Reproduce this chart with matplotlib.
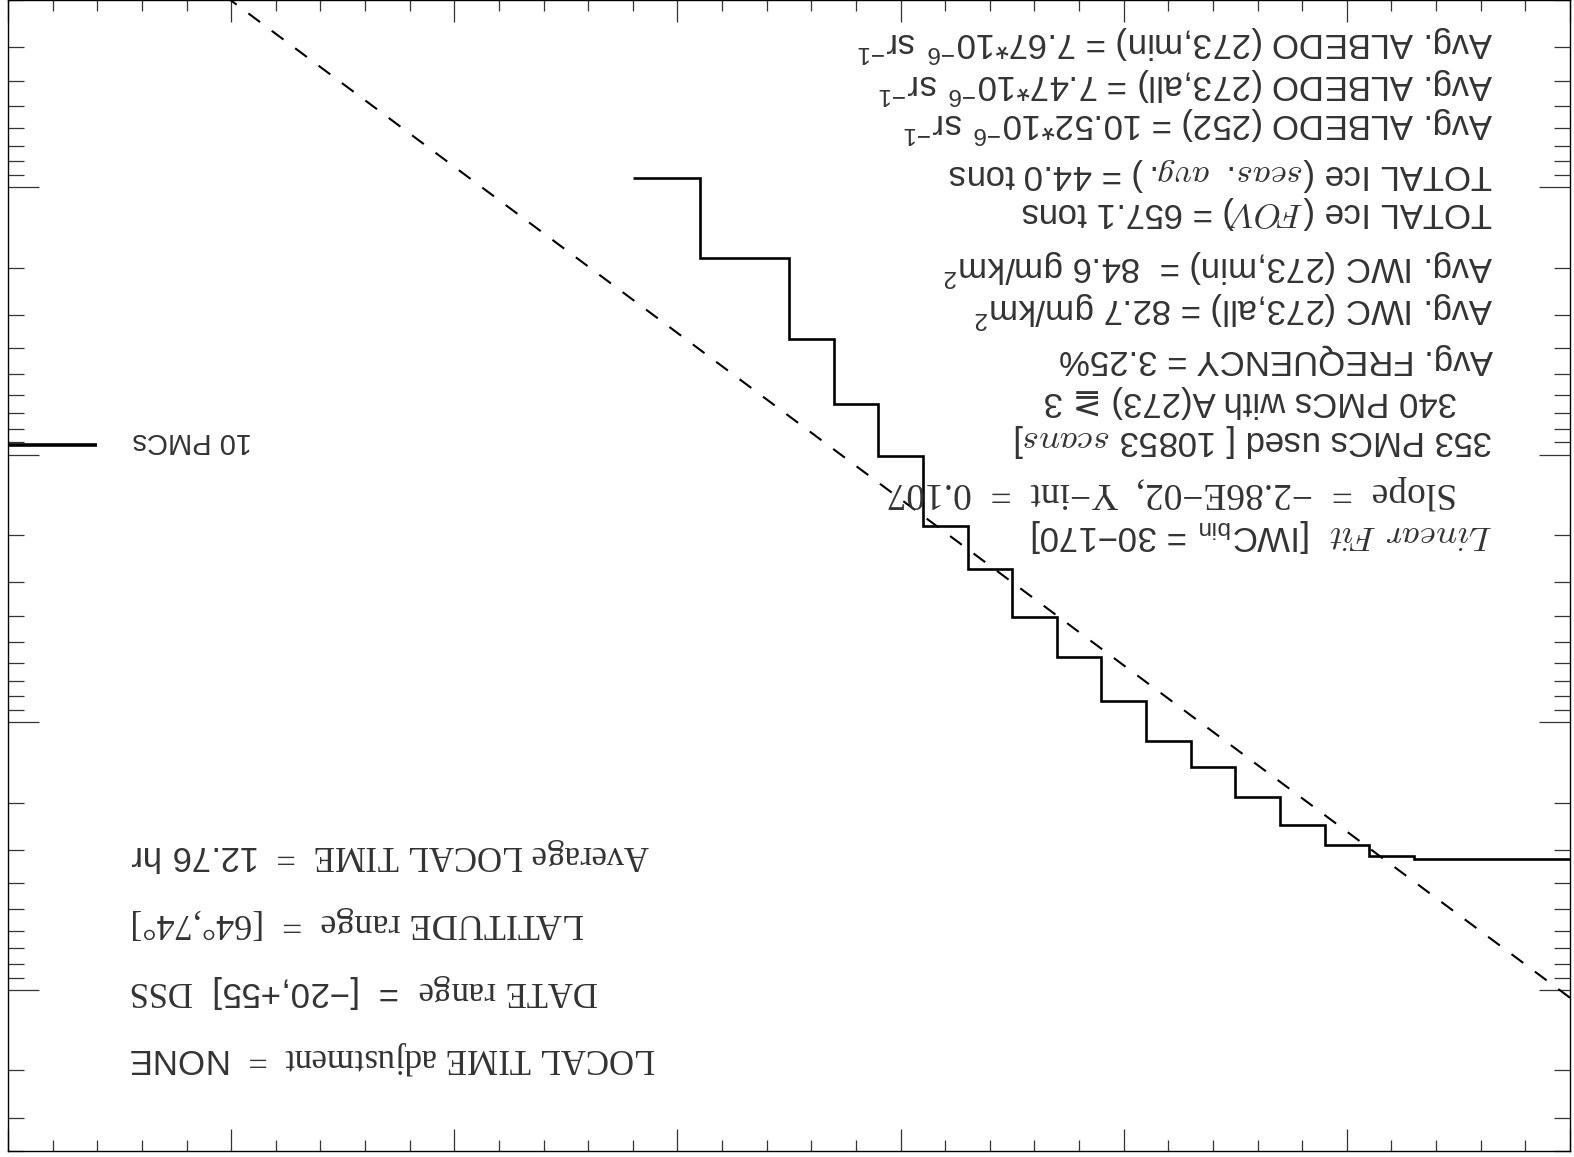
import numpy as np
import matplotlib
matplotlib.use('Agg')
import matplotlib.pyplot as plt
from matplotlib.ticker import MultipleLocator, LogLocator, NullFormatter

# cumulative PMC counts per IWC bin (gm/km^2)
n_scans = 10853
iwc_edges = [0, 25, 35, 45, 55, 65, 75, 85, 95, 105, 115, 125, 135, 145, 155, 165, 175, 195, 210]
pmc_counts = [353, 351, 342, 311, 262, 206, 159, 128, 90, 62, 44, 29, 20, 11, 7, 4, 2, 1]
fit_slope = -2.86e-2
fit_yint = 0.107
ref_pmcs = 10

plt.rcParams['mathtext.fontset'] = 'custom'
plt.rcParams['mathtext.rm'] = 'Liberation Sans'
plt.rcParams['mathtext.it'] = 'cmmi10'
plt.rcParams['mathtext.sf'] = 'Liberation Serif'
plt.rcParams['mathtext.bf'] = 'Liberation Sans:bold'

W, H = 1574, 1157
fig = plt.figure(figsize=(W / 100, H / 100), dpi=100)
ax = fig.add_axes([8 / W, 6 / H, (1570 - 8) / W, 1151 / H])

freq = np.array(pmc_counts) / n_scans
ax.stairs(freq, iwc_edges, baseline=None, color='k', lw=1.9)
u = np.array([0.0, 350.0])
ax.plot(u, fit_yint * np.exp(fit_slope * u), color='k', lw=1.5, dashes=(7, 7))
ax.plot([330, 350], [ref_pmcs / n_scans] * 2, color='k', lw=2.6, solid_capstyle='butt')

ax.set_yscale('log')
ax.set_xlim(350, 0)
ax.set_ylim(0.4, 2e-5)
ax.xaxis.set_major_locator(MultipleLocator(50))
ax.xaxis.set_minor_locator(MultipleLocator(10))
ax.yaxis.set_major_locator(LogLocator(base=10, numticks=20))
ax.yaxis.set_minor_locator(LogLocator(base=10, subs=np.arange(2, 10), numticks=20))
ax.yaxis.set_minor_formatter(NullFormatter())
ax.tick_params(which='both', direction='in', top=True, right=True,
               labelbottom=False, labelleft=False, width=0.9, color='#333333')
ax.tick_params(axis='x', which='major', length=16)
ax.tick_params(axis='x', which='minor', length=8)
ax.tick_params(axis='y', which='major', length=22)
ax.tick_params(axis='y', which='minor', length=11.5)
for sp in ax.spines.values():
    sp.set_linewidth(1.0)

SANS = ['Liberation Sans', 'DejaVu Sans']
SERIF = ['Liberation Serif', 'DejaVu Serif']


def put(px, py, s, ha='left', size=25, family=SANS):
    fig.text(px / W, 1 - py / H, s, rotation=180, rotation_mode='anchor',
             ha=ha, va='baseline', fontsize=size, color='#333333', family=family)


# upper-right block (text start sits on the right because the plot is upside down)
put(1493, 32, r'Avg. ALBEDO (273,min) = 7.67*10$^{-6}$ sr$^{-1}$')
put(1493, 74, r'Avg. ALBEDO (273,all) = 7.47*10$^{-6}$ sr$^{-1}$')
put(1493, 113, r'Avg. ALBEDO (252) = 10.52*10$^{-6}$ sr$^{-1}$')
put(1493, 165, r'TOTAL Ice ($seas.\ avg.$) = 44.0 tons')
put(1493, 203, r'TOTAL Ice ($FOV$) = 657.1 tons')
put(1493, 256, r'Avg. IWC (273,min) =  84.6 gm/km$^2$')
put(1493, 298, r'Avg. IWC (273,all) = 82.7 gm/km$^2$')
put(1493, 350, 'Avg. FREQUENCY = 3.25%')
put(1457, 392, '340 PMCs with A(273) ≧ 3')
put(1493, 431, r'353 PMCs used [ $\mathit{10853\ scans}$]')
put(1457, 483, 'Slope  =  −2.86E−02,  Y−int  =  0.107', size=27, family=SERIF)
put(1493, 526, r'$Linear\ Fit$  [IWC$_{\rm bin}$ = 30−170]')

# lower-left block
put(130, 846, r'Average LOCAL TIME  =  $\mathrm{12.76\ hr}$', ha='right', size=25, family=SERIF)
put(130, 914, 'LATITUDE range  =  [64°,74°]', ha='right', size=26, family=SERIF)
put(130, 982, r'$\mathsf{DATE\ range}$  =  [−20,+55]  $\mathsf{DSS}$', ha='right', size=25)
put(130, 1049, r'LOCAL TIME adjustment  =  $\mathrm{NONE}$', ha='right', size=25, family=SERIF)

put(252, 433, '10 PMCs', size=21)

fig.savefig('out.png', dpi=100)
